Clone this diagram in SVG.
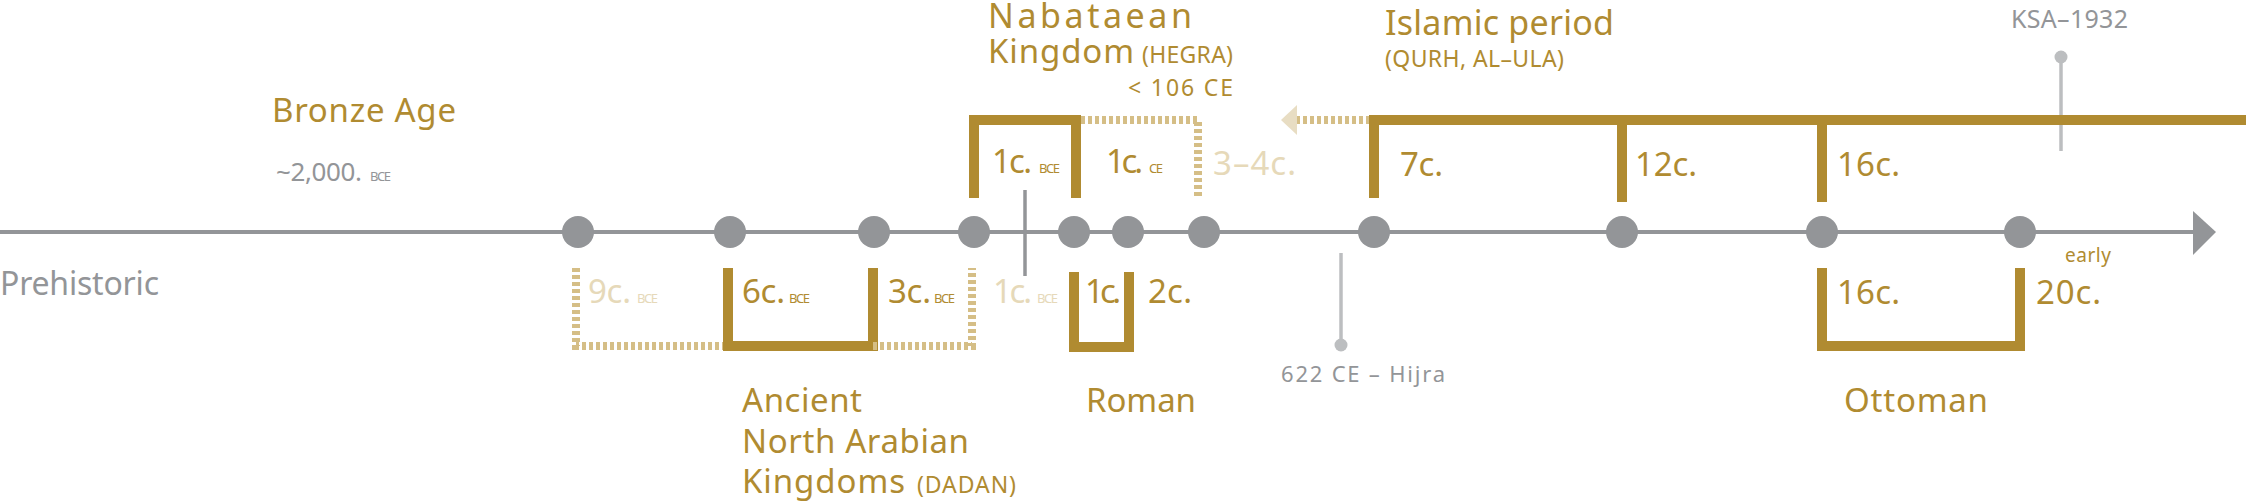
<svg xmlns="http://www.w3.org/2000/svg" width="2248" height="502" viewBox="0 0 2248 502">
<style>
text{font-family:"Noto Sans","DejaVu Sans",sans-serif;}
.gold{fill:#b08b31;}
.lt{fill:#e6d9b9;}
.gray{fill:#939598;}
.big{font-size:33px;}
.sub{font-size:23px;}
.sm{font-size:13px;}
.br{fill:none;stroke:#b08b31;stroke-width:10;}
.dash{fill:none;stroke:#d5be86;stroke-width:8;stroke-dasharray:4 3;}
.dot{fill:#939598;}
.pin{stroke:#bcbec0;stroke-width:3.5;}
</style>
<rect width="2248" height="502" fill="#ffffff"/>
<g id="connectors">
<line x1="0" y1="232" x2="2196" y2="232" stroke="#939598" stroke-width="4"/>
<polygon points="2193,211 2216,232 2193,255" fill="#939598"/>
<line x1="1025" y1="190" x2="1025" y2="276" stroke="#939598" stroke-width="3.5"/>
<line class="pin" x1="1341" y1="253" x2="1341" y2="345"/>
<circle cx="1341" cy="345" r="6.5" fill="#bcbec0"/>
<line class="pin" x1="2061" y1="57" x2="2061" y2="151"/>
<circle cx="2061" cy="57" r="6.5" fill="#bcbec0"/>
</g>
<g id="dots">
<circle class="dot" cx="578" cy="232" r="16"/>
<circle class="dot" cx="730" cy="232" r="16"/>
<circle class="dot" cx="874" cy="232" r="16"/>
<circle class="dot" cx="974" cy="232" r="16"/>
<circle class="dot" cx="1074" cy="232" r="16"/>
<circle class="dot" cx="1128" cy="232" r="16"/>
<circle class="dot" cx="1204" cy="232" r="16"/>
<circle class="dot" cx="1374" cy="232" r="16"/>
<circle class="dot" cx="1622" cy="232" r="16"/>
<circle class="dot" cx="1822" cy="232" r="16"/>
<circle class="dot" cx="2020" cy="232" r="16"/>
</g>
<g id="prehistoric">
<text class="gray" x="0" y="295" font-size="32" textLength="159">Prehistoric</text>
</g>
<g id="bronze-age">
<text class="gold big" x="272" y="122" textLength="184">Bronze Age</text>
<text class="gray" x="276" y="181" font-size="26" textLength="86">~2,000.</text>
<text class="gray sm" x="370" y="181" textLength="21">BCE</text>
</g>
<g id="ancient-north-arabian">
<path class="dash" d="M576,268 V346 H728"/>
<path class="br" d="M728,268 V346 H873 V268"/>
<path class="dash" d="M873,346 H972 V268"/>
<text class="lt big" x="588" y="303" textLength="43">9c.</text>
<text class="lt sm" x="637" y="303" textLength="21">BCE</text>
<text class="gold big" x="742" y="303" textLength="43">6c.</text>
<text class="gold sm" x="789" y="303" textLength="21">BCE</text>
<text class="gold big" x="888" y="303" textLength="43">3c.</text>
<text class="gold sm" x="934" y="303" textLength="21">BCE</text>
<text class="lt big" x="993" y="303" textLength="39">1c.</text>
<text class="lt sm" x="1037" y="303" textLength="21">BCE</text>
<text class="gold big" x="742" y="412" textLength="120">Ancient</text>
<text class="gold big" x="742" y="453" textLength="227">North Arabian</text>
<text class="gold big" x="742" y="493" textLength="163">Kingdoms</text>
<text class="gold sub" x="917" y="493" textLength="99">(DADAN)</text>
</g>
<g id="nabataean">
<path class="br" d="M974,198 V120 H1076 V198"/>
<path class="dash" d="M1081,120 H1198 V198"/>
<text class="gold" x="988" y="28" font-size="34" textLength="204">Nabataean</text>
<text class="gold big" x="988" y="63" textLength="146">Kingdom</text>
<text class="gold sub" x="1142" y="63" textLength="91">(HEGRA)</text>
<text class="gold sub" x="1128" y="96" textLength="105">&lt; 106 CE</text>
<text class="gold big" x="992" y="173" textLength="40">1c.</text>
<text class="gold sm" x="1039" y="173" textLength="21">BCE</text>
<text class="gold big" x="1106" y="173" textLength="37">1c.</text>
<text class="gold sm" x="1149" y="173" textLength="14">CE</text>
<text class="lt big" x="1213" y="175" textLength="83">3–4c.</text>
</g>
<g id="roman">
<path class="br" d="M1074,272 V347 H1129 V272"/>
<text class="gold big" x="1085" y="303" textLength="36">1c.</text>
<text class="gold big" x="1148" y="303" textLength="44">2c.</text>
<text class="gold big" x="1086" y="412" textLength="110">Roman</text>
</g>
<g id="islamic">
<path class="dash" d="M1370,120 H1297"/>
<polygon points="1281,120 1297,105 1297,135" fill="#e8ddc3"/>
<path class="br" d="M1374,198 V120 H2246"/>
<line class="br" x1="1622" y1="120" x2="1622" y2="202"/>
<line class="br" x1="1822" y1="120" x2="1822" y2="202"/>
<text class="gold" x="1385" y="35" font-size="34" textLength="229">Islamic period</text>
<text class="gold sub" x="1385" y="67" textLength="179">(QURH, AL–ULA)</text>
<text class="gold big" x="1400" y="176" textLength="43">7c.</text>
<text class="gold big" x="1635" y="176" textLength="62">12c.</text>
<text class="gold big" x="1837" y="176" textLength="63">16c.</text>
</g>
<g id="hijra">
<text class="gray" x="1281" y="382" font-size="22" textLength="164">622 CE – Hijra</text>
</g>
<g id="ottoman">
<path class="br" d="M1822,268 V346 H2020 V268"/>
<text class="gold big" x="1837" y="304" textLength="63">16c.</text>
<text class="gold big" x="2036" y="304" textLength="65">20c.</text>
<text class="gold" x="2065" y="262" font-size="19" textLength="46">early</text>
<text class="gold big" x="1844" y="412" textLength="144">Ottoman</text>
</g>
<g id="ksa">
<text class="gray" x="2011" y="28" font-size="25" textLength="117">KSA–1932</text>
</g>
</svg>
